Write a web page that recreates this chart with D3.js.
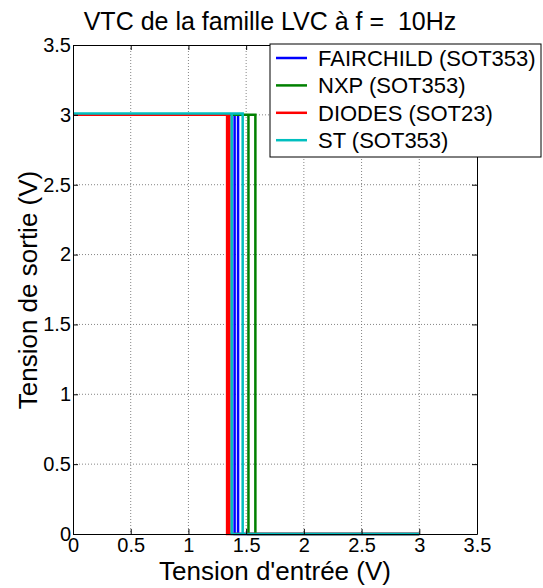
<!DOCTYPE html>
<html><head><meta charset="utf-8">
<script src="https://cdn.jsdelivr.net/npm/d3@7"></script>
<style>body{margin:0;background:#fff}svg{display:block;font-family:Arial,"Liberation Sans",sans-serif}</style>
</head><body><svg id="c" width="543" height="588"></svg>
<script>
const titleText = "VTC de la famille LVC à f =  10Hz";
const xLabel = "Tension d'entrée (V)";
const yLabel = "Tension de sortie (V)";
const xTicks = [0,0.5,1,1.5,2,2.5,3,3.5];
const yTicks = [0,0.5,1,1.5,2,2.5,3,3.5];
const seriesNames = ["FAIRCHILD (SOT353)","NXP (SOT353)","DIODES (SOT23)","ST (SOT353)"];
const seriesColors = ["#0000ff","#008000","#ff0000","#00bfbf"];
// hysteresis loops: [Vin, Vout]
const fairchild = [[0,3.0],[1.40,3.0],[1.40,0.0],[3,0.0],[1.43,0.0],[1.43,3.0],[0,3.0]];
const nxp       = [[0,3.0],[1.52,3.0],[1.52,0.0],[3,0.0],[1.58,0.0],[1.58,3.0],[0,3.0]];
const diodes    = [[0,3.0],[1.335,3.0],[1.335,0.0],[3,0.0],[1.355,0.0],[1.355,3.0],[0,3.0]];
const st        = [[0,3.01],[1.375,3.01],[1.375,0.0],[3,0.0],[1.47,0.0],[1.47,3.01],[0,3.01]];
const seriesData = [fairchild,nxp,diodes,st];

const svg = d3.select("#c");
const L=73,R=477,T=45,B=534;
const x = d3.scaleLinear().domain([0,3.5]).range([L,R]);
const y = d3.scaleLinear().domain([0,3.5]).range([B,T]);
const FF = "Arial,'Liberation Sans',sans-serif";

// grid
const g = svg.append("g");
g.selectAll("line.gx").data(xTicks.slice(1,-1)).join("line")
 .attr("x1",d=>x(d)).attr("x2",d=>x(d)).attr("y1",T).attr("y2",B)
 .attr("stroke","#666").attr("stroke-width",0.8).attr("stroke-dasharray","1,2");
g.selectAll("line.gy").data(yTicks.slice(1,-1)).join("line")
 .attr("y1",d=>y(d)).attr("y2",d=>y(d)).attr("x1",L).attr("x2",R)
 .attr("stroke","#666").attr("stroke-width",0.8).attr("stroke-dasharray","1,2");

// data lines
const line = d3.line().x(d=>x(d[0])).y(d=>y(d[1]));
seriesData.forEach((s,i)=>{
  svg.append("path").attr("d",line(s)).attr("fill","none")
   .attr("stroke",seriesColors[i]).attr("stroke-width",2.5);
});

// axes (box)
const fmt = d=>String(d);
svg.append("g").attr("transform",`translate(0,${B})`)
 .call(d3.axisBottom(x).tickValues(xTicks).tickFormat(fmt).tickSizeInner(-5).tickSizeOuter(0).tickPadding(4))
 .call(a=>{a.select(".domain").attr("stroke","#000");a.selectAll("text").attr("font-size",20).attr("fill","#000").attr("font-family",FF);});
svg.append("g").attr("transform",`translate(${L},0)`)
 .call(d3.axisLeft(y).tickValues(yTicks).tickFormat(fmt).tickSizeInner(-5).tickSizeOuter(0).tickPadding(2))
 .call(a=>{a.select(".domain").attr("stroke","#000");a.selectAll("text").attr("font-size",20).attr("fill","#000").attr("font-family",FF);});
svg.append("g").attr("transform",`translate(0,${T})`)
 .call(d3.axisTop(x).tickValues(xTicks).tickFormat("").tickSizeInner(-5).tickSizeOuter(0))
 .call(a=>a.select(".domain").attr("stroke","#000"));
svg.append("g").attr("transform",`translate(${R},0)`)
 .call(d3.axisRight(y).tickValues(yTicks).tickFormat("").tickSizeInner(-5).tickSizeOuter(0))
 .call(a=>a.select(".domain").attr("stroke","#000"));

// titles
svg.append("text").attr("x",270).attr("y",30).attr("text-anchor","middle")
 .style("white-space","pre").attr("font-size",25).text(titleText);
svg.append("text").attr("x",275).attr("y",580).attr("text-anchor","middle")
 .attr("font-size",26).text(xLabel);
svg.append("text").attr("transform","translate(37,290) rotate(-90)").attr("text-anchor","middle")
 .attr("font-size",26).text(yLabel);

// legend
const lg = svg.append("g");
lg.append("rect").attr("x",270).attr("y",44).attr("width",271).attr("height",113)
 .attr("fill","#fff").attr("stroke","#000").attr("stroke-width",1);
seriesNames.forEach((n,i)=>{
  const yy = 58 + i*27.4;
  lg.append("line").attr("x1",276).attr("x2",307).attr("y1",yy).attr("y2",yy)
   .attr("stroke",seriesColors[i]).attr("stroke-width",2.5);
  lg.append("text").attr("x",318).attr("y",yy+8).attr("font-size",22).text(n);
});
</script></body></html>
